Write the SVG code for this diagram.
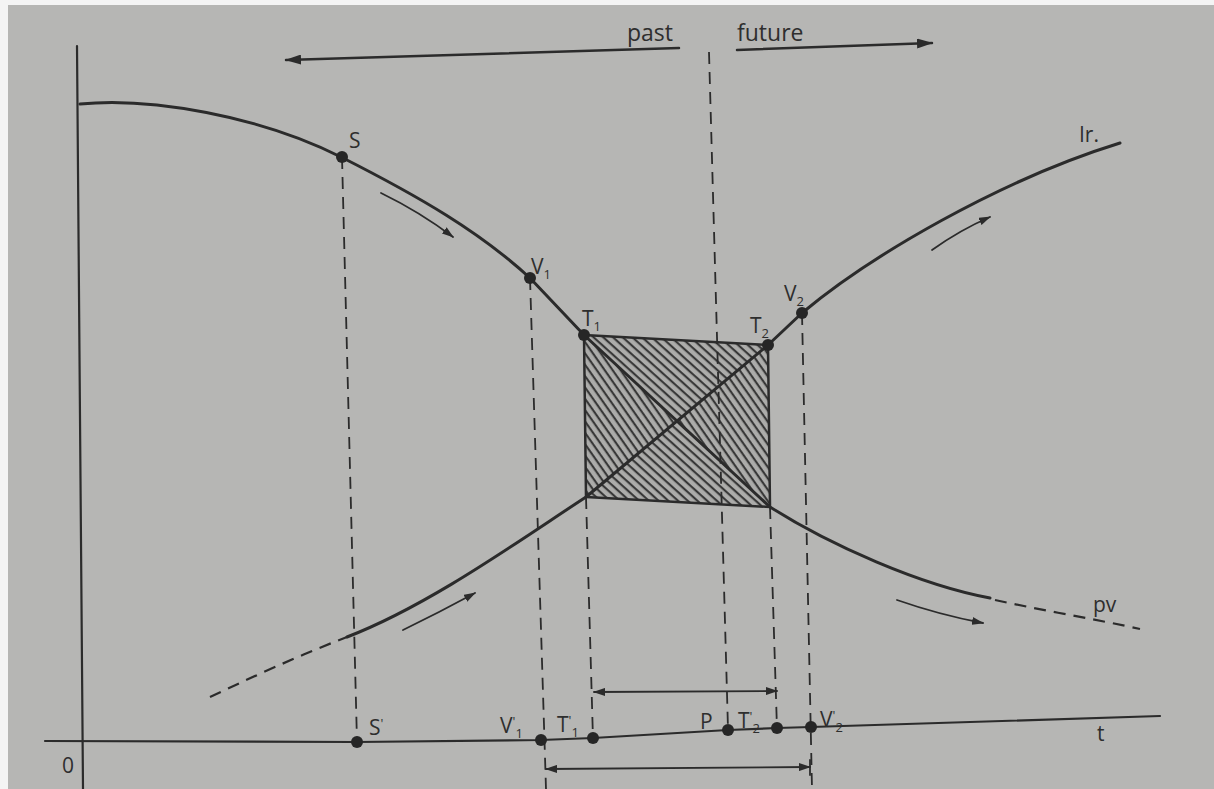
<svg xmlns="http://www.w3.org/2000/svg" width="1214" height="789" viewBox="0 0 1214 789">
<style>
.ln{fill:none;stroke:#2b2b2b;stroke-linecap:round;stroke-linejoin:round}
.curve{stroke-width:3}
.ax{stroke-width:2.2}
.dash{stroke-width:1.8;stroke-dasharray:12 8;stroke-linecap:butt}
.thin{stroke-width:1.8}
.dot{fill:#262626}
text{font-family:"Open Sans","Liberation Sans",sans-serif;fill:#2e2e2e}
.lb{font-size:21px}
.sb{font-size:13px}
</style>
<defs>
<marker id="ah" viewBox="0 0 12 8" refX="11" refY="4" markerWidth="12" markerHeight="8" markerUnits="userSpaceOnUse" orient="auto-start-reverse">
<path d="M0,0 L12,4 L0,8 z" fill="#2b2b2b"/>
</marker>
<marker id="ahb" viewBox="0 0 16 10" refX="15" refY="5" markerWidth="16" markerHeight="10" markerUnits="userSpaceOnUse" orient="auto-start-reverse">
<path d="M0,0 L16,5 L0,10 z" fill="#2b2b2b"/>
</marker>
<pattern id="h45" width="6.5" height="6.5" patternUnits="userSpaceOnUse" patternTransform="rotate(42)">
<rect width="6.5" height="6.5" fill="#acacaa"/>
<line x1="0" y1="3" x2="6.5" y2="3" stroke="#2f2f2f" stroke-width="2"/>
</pattern>
<pattern id="h60" width="6.5" height="6.5" patternUnits="userSpaceOnUse" patternTransform="rotate(55)">
<rect width="6.5" height="6.5" fill="#acacaa"/>
<line x1="0" y1="3" x2="6.5" y2="3" stroke="#2f2f2f" stroke-width="2"/>
</pattern>
</defs>
<rect width="1214" height="789" fill="#f4f4f4"/>
<rect x="8" y="5" width="1206" height="784" fill="#b6b6b4"/>

<g id="hatched-box">
<polygon points="584,335 768,345 677,421" fill="url(#h45)"/>
<polygon points="586,497 770,507 677,421" fill="url(#h45)"/>
<polygon points="584,335 586,497 677,421" fill="url(#h60)"/>
<polygon points="768,345 770,507 677,421" fill="url(#h60)"/>
<polygon class="ln" points="584,335 768,345 770,507 586,497" style="stroke-width:2.5"/>
</g>

<g id="axes">
<line class="ln ax" x1="77" y1="46" x2="83" y2="789"/>
<path class="ln ax" d="M45,741 L357,742 L541,740 L593,738 L728,730 L777,728 L811,727 L1160,716"/>
</g>

<g id="connectors">
<path class="ln curve" d="M80,104 C150,97 260,116 341,157 C420,197 480,232 530,278 L584,335 L770,507 C830,545 920,585 990,598"/>
<path class="ln dash" style="stroke-width:2.2" d="M995,600 C1040,610 1100,620 1140,629"/>
<path class="ln dash" style="stroke-width:2.2" d="M210,697 C250,678 300,655 347,637"/>
<path class="ln curve" d="M347,637 C430,605 520,540 586,497 L768,345 L802,313 C870,256 1000,180 1120,143"/>

<line class="ln dash" x1="342" y1="157" x2="357" y2="742"/>
<line class="ln dash" x1="530" y1="278" x2="546" y2="789"/>
<line class="ln dash" x1="586" y1="497" x2="593" y2="739"/>
<line class="ln dash" x1="709" y1="52" x2="728" y2="729"/>
<line class="ln dash" x1="770" y1="507" x2="777" y2="729"/>
<line class="ln dash" x1="802" y1="313" x2="812" y2="789"/>

<line class="ln" style="stroke-width:2.5" x1="679" y1="48" x2="286" y2="60" marker-end="url(#ahb)"/>
<line class="ln" style="stroke-width:2.5" x1="737" y1="50" x2="932" y2="43" marker-end="url(#ahb)"/>

<line class="ln thin" x1="594" y1="692" x2="777" y2="691" marker-start="url(#ah)" marker-end="url(#ah)"/>
<line class="ln thin" x1="546" y1="769" x2="810" y2="767" marker-start="url(#ah)" marker-end="url(#ah)"/>
<line class="ln thin" x1="810" y1="760" x2="810" y2="775"/>

<path class="ln thin" d="M381,193 Q420,212 453,237" marker-end="url(#ah)"/>
<path class="ln thin" d="M932,250 Q960,230 990,217" marker-end="url(#ah)"/>
<path class="ln thin" d="M403,630 Q440,612 475,593" marker-end="url(#ah)"/>
<path class="ln thin" d="M897,600 Q940,615 983,623" marker-end="url(#ah)"/>
</g>

<g id="dots">
<circle class="dot" cx="342" cy="157" r="6"/>
<circle class="dot" cx="530" cy="278" r="6"/>
<circle class="dot" cx="584" cy="335" r="6"/>
<circle class="dot" cx="768" cy="345" r="6"/>
<circle class="dot" cx="802" cy="313" r="6"/>
<circle class="dot" cx="357" cy="742" r="6"/>
<circle class="dot" cx="541" cy="740" r="6"/>
<circle class="dot" cx="593" cy="738" r="6"/>
<circle class="dot" cx="728" cy="730" r="6"/>
<circle class="dot" cx="777" cy="728" r="6"/>
<circle class="dot" cx="811" cy="727" r="6"/>
</g>

<g id="labels">
<text x="627" y="41" style="font-size:23px">past</text>
<text x="737" y="41" style="font-size:23px">future</text>
<text class="lb" x="349" y="148">S</text>
<text class="lb" x="531" y="274">V<tspan class="sb" dy="5">1</tspan></text>
<text class="lb" x="582" y="326">T<tspan class="sb" dy="5">1</tspan></text>
<text class="lb" x="750" y="333">T<tspan class="sb" dy="5">2</tspan></text>
<text class="lb" x="784" y="301">V<tspan class="sb" dy="5">2</tspan></text>
<text class="lb" x="1079" y="142">Ir.</text>
<text class="lb" x="1093" y="612">pv</text>
<text class="lb" x="62" y="773">0</text>
<text class="lb" x="1097" y="741">t</text>
<text class="lb" x="369" y="735">S<tspan class="sb" dy="-7">'</tspan></text>
<text class="lb" x="500" y="733">V<tspan class="sb" dy="-7">'</tspan><tspan class="sb" dy="12">1</tspan></text>
<text class="lb" x="557" y="732">T<tspan class="sb" dy="-7">'</tspan><tspan class="sb" dy="12">1</tspan></text>
<text class="lb" x="700" y="729">P</text>
<text class="lb" x="738" y="728">T<tspan class="sb" dy="-7">'</tspan><tspan class="sb" dy="12">2</tspan></text>
<text class="lb" x="820" y="727">V<tspan class="sb" dy="-7">'</tspan><tspan class="sb" dy="12">2</tspan></text>
</g>
</svg>
